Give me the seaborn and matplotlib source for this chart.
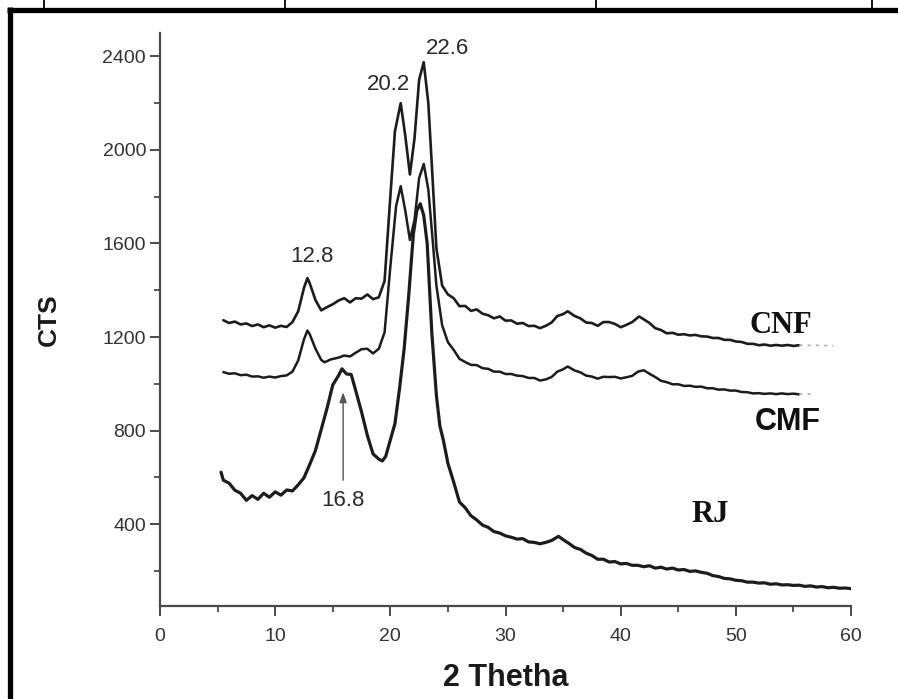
import numpy as np
import pandas as pd
import matplotlib
matplotlib.use("Agg")
import matplotlib.pyplot as plt
from matplotlib.lines import Line2D
import seaborn as sns

# ---- XRD patterns (2-theta in degrees, intensity in counts) ----
cnf_theta = [5.5, 6.0, 6.5, 7.0, 7.5, 8.0, 8.5, 9.0, 9.5, 10.0, 10.5, 11.0, 11.5, 12.0, 12.5, 12.8,
             13.0, 13.5, 14.0, 14.5, 15.0, 15.5, 16.0, 16.5, 17.0, 17.5, 18.0, 18.5, 19.0, 19.5,
             20.0, 20.4, 20.9, 21.3, 21.7, 22.1, 22.5, 22.9, 23.3, 23.7, 24.0, 24.5, 25.0, 25.5,
             26.0, 26.5, 27.0, 27.5, 28.0, 28.5, 29.0, 29.5, 30.0, 30.5, 31.0, 31.5, 32.0, 32.5,
             33.0, 33.5, 34.0, 34.5, 35.0, 35.4, 36.0, 36.5, 37.0, 37.5, 38.0, 38.5, 39.0, 39.5,
             40.0, 40.5, 41.0, 41.6, 42.0, 42.5, 43.0, 43.5, 44.0, 44.5, 45.0, 45.5, 46.0, 46.5,
             47.0, 47.5, 48.0, 48.5, 49.0, 49.5, 50.0, 50.5, 51.0, 51.5, 52.0, 52.5, 53.0, 53.5,
             54.0, 54.5, 55.0, 55.5]
cnf_cts = [1272, 1260, 1266, 1254, 1258, 1247, 1254, 1242, 1250, 1240, 1248, 1243, 1264, 1310, 1410, 1452,
           1430, 1358, 1314, 1328, 1340, 1356, 1366, 1348, 1366, 1364, 1382, 1362, 1370, 1440,
           1800, 2080, 2200, 2060, 1895, 2050, 2300, 2375, 2200, 1850, 1580, 1420, 1382, 1366,
           1332, 1333, 1312, 1318, 1300, 1293, 1280, 1288, 1270, 1271, 1257, 1260, 1247, 1248,
           1238, 1248, 1262, 1290, 1298, 1310, 1290, 1280, 1262, 1260, 1248, 1264, 1264, 1256,
           1242, 1252, 1264, 1288, 1276, 1260, 1238, 1230, 1216, 1218, 1210, 1212, 1207, 1209,
           1203, 1202, 1196, 1196, 1188, 1188, 1181, 1179, 1171, 1171, 1165, 1168, 1163, 1166,
           1163, 1166, 1162, 1165]
cnf_tail_theta = [55.5, 56.0, 56.5, 57.0, 57.5, 58.0, 58.5]
cnf_tail_cts = [1165, 1165, 1164, 1165, 1163, 1164, 1163]

cmf_theta = [5.5, 6.0, 6.5, 7.0, 7.5, 8.0, 8.5, 9.0, 9.5, 10.0, 10.5, 11.0, 11.5, 12.0, 12.5, 12.8,
             13.0, 13.5, 14.0, 14.3, 14.8, 15.5, 16.0, 16.5, 17.0, 17.5, 18.0, 18.5, 19.0, 19.5,
             20.0, 20.5, 20.9, 21.3, 21.7, 22.1, 22.5, 22.9, 23.3, 23.7, 24.0, 24.5, 25.0, 25.5,
             26.0, 26.5, 27.0, 27.5, 28.0, 28.5, 29.0, 29.5, 30.0, 30.5, 31.0, 31.5, 32.0, 32.5,
             33.0, 33.5, 34.0, 34.5, 35.0, 35.4, 36.0, 36.5, 37.0, 37.5, 38.0, 38.5, 39.0, 39.5,
             40.0, 40.5, 41.0, 41.5, 42.0, 42.5, 43.0, 43.5, 44.0, 44.5, 45.0, 45.5, 46.0, 46.5,
             47.0, 47.5, 48.0, 48.5, 49.0, 49.5, 50.0, 50.5, 51.0, 51.5, 52.0, 52.5, 53.0, 53.5,
             54.0, 54.5, 55.0, 55.5]
cmf_cts = [1050, 1043, 1045, 1037, 1039, 1031, 1032, 1026, 1031, 1027, 1033, 1036, 1052, 1100, 1190, 1228,
           1212, 1150, 1102, 1092, 1104, 1112, 1121, 1117, 1133, 1148, 1150, 1130, 1150, 1220,
           1500, 1760, 1845, 1740, 1615, 1700, 1880, 1940, 1830, 1600, 1420, 1250, 1178, 1145,
           1107, 1093, 1081, 1080, 1067, 1064, 1052, 1052, 1042, 1042, 1035, 1033, 1025, 1025,
           1014, 1019, 1029, 1052, 1062, 1074, 1057, 1049, 1035, 1031, 1022, 1030, 1029, 1030,
           1023, 1028, 1034, 1052, 1058, 1043, 1029, 1013, 1007, 998, 998, 991, 992, 987,
           988, 981, 981, 975, 976, 971, 971, 965, 964, 959, 960, 957, 959, 956,
           959, 956, 958, 955]
cmf_tail_theta = [55.5, 56.0, 56.5]
cmf_tail_cts = [955, 957, 956]

rj_theta = [5.3, 5.5, 6.0, 6.5, 7.0, 7.5, 8.0, 8.5, 9.0, 9.5, 10.0, 10.5, 11.0, 11.5, 12.0, 12.5,
            13.0, 13.5, 14.0, 14.5, 15.0, 15.5, 15.8, 16.2, 16.6, 17.0, 17.5, 18.0, 18.5, 19.0,
            19.3, 19.6, 20.0, 20.4, 20.8, 21.2, 21.6, 22.0, 22.3, 22.6, 22.9, 23.2, 23.6, 24.0,
            24.3, 24.6, 25.0, 25.5, 26.0, 26.5, 27.0, 27.5, 28.0, 28.5, 29.0, 29.5, 30.0, 30.5,
            31.0, 31.5, 32.0, 32.5, 33.0, 33.5, 34.0, 34.6, 35.0, 35.5, 36.0, 36.5, 37.0, 37.5,
            38.0, 38.5, 39.0, 39.5, 40.0, 40.5, 41.0, 41.5, 42.0, 42.5, 43.0, 43.5, 44.0, 44.5,
            45.0, 45.5, 46.0, 46.5, 47.0, 47.5, 48.0, 48.5, 49.0, 49.5, 50.0, 50.5, 51.0, 51.5,
            52.0, 52.5, 53.0, 53.5, 54.0, 54.5, 55.0, 55.5, 56.0, 56.5, 57.0, 57.5, 58.0, 58.5,
            59.0, 59.5, 60.0]
rj_cts = [622, 588, 575, 545, 532, 502, 522, 506, 532, 515, 538, 524, 546, 542, 568, 598,
          655, 715, 805, 895, 995, 1035, 1064, 1042, 1040, 970, 880, 780, 700, 678,
          670, 690, 760, 830, 980, 1150, 1380, 1640, 1740, 1770, 1720, 1600, 1220, 950,
          820, 760, 660, 580, 495, 470, 436, 418, 396, 386, 368, 362, 350, 344,
          336, 338, 324, 322, 316, 322, 330, 348, 334, 318, 300, 292, 276, 266,
          250, 250, 238, 240, 230, 232, 224, 224, 218, 222, 212, 216, 208, 212,
          204, 206, 198, 200, 194, 190, 180, 176, 168, 166, 160, 158, 152, 152,
          148, 149, 143, 145, 140, 141, 138, 139, 134, 136, 131, 133, 128, 130,
          126, 127, 124]

# ---- peak labels ----
peak_labels = ["12.8", "20.2", "22.6"]
peak_label_theta = [13.2, 19.8, 25.0]
peak_label_cts = [1545, 2280, 2434]

rj_peak_label = "16.8"
rj_peak_theta = 15.9
rj_peak_text_cts = 503
rj_arrow_from = 588
rj_arrow_to = 964

series_names = ["CNF", "CMF", "RJ"]
series_label_theta = [53.9, 54.5, 47.8]
series_label_cts = [1250, 836, 440]

x_ticks = [0, 10, 20, 30, 40, 50, 60]
y_ticks = [400, 800, 1200, 1600, 2000, 2400]

sns.set_theme(style="white")
plt.rcParams["font.family"] = ["Liberation Sans", "DejaVu Sans"]

fig = plt.figure(figsize=(8.98, 6.99), dpi=100)
ax = fig.add_axes([160 / 898, 1 - 606 / 699, (851 - 160) / 898, (606 - 33) / 699])

line_color = "#1c1c1c"
frames = {
    "CNF": pd.DataFrame({"theta": cnf_theta, "cts": cnf_cts}),
    "CMF": pd.DataFrame({"theta": cmf_theta, "cts": cmf_cts}),
    "RJ": pd.DataFrame({"theta": rj_theta, "cts": rj_cts}),
}
widths = {"CNF": 1.9, "CMF": 1.8, "RJ": 2.3}
for name, df in frames.items():
    sns.lineplot(data=df, x="theta", y="cts", ax=ax, color=line_color,
                 linewidth=widths[name], sort=False, estimator=None)

# faded ends of the two upper traces
sns.lineplot(x=cnf_tail_theta, y=cnf_tail_cts, ax=ax, color="#b0b0b0",
             linewidth=1.2, linestyle=(0, (2, 3)), sort=False, estimator=None)
sns.lineplot(x=cmf_tail_theta, y=cmf_tail_cts, ax=ax, color="#b0b0b0",
             linewidth=1.2, linestyle=(0, (2, 3)), sort=False, estimator=None)

ax.set_xlim(0, 60)
ax.set_ylim(50, 2500)
ax.set_xticks(x_ticks)
ax.set_yticks(y_ticks)
ax.set_xticks([5, 15, 25, 35, 45, 55], minor=True)
ax.set_yticks([200, 600, 1000, 1400, 1800, 2200], minor=True)

axis_color = "#4a4a4a"
for side in ["top", "right"]:
    ax.spines[side].set_visible(False)
for side in ["left", "bottom"]:
    ax.spines[side].set_color(axis_color)
    ax.spines[side].set_linewidth(1.6)
ax.tick_params(axis="both", which="major", direction="out", length=7, width=1.4,
               color=axis_color, labelsize=14, labelcolor="#333333", pad=3,
               left=True, bottom=True)
ax.tick_params(axis="x", which="major", pad=9)
ax.tick_params(axis="both", which="minor", direction="out", length=4, width=1.3,
               color=axis_color, left=True, bottom=True)

ax.set_xlabel("2 Thetha", fontsize=22, fontweight="bold", color="#1a1a1a", labelpad=13)
ax.set_ylabel("CTS", fontsize=19, fontweight="bold", color="#1a1a1a", labelpad=30)

for lab, tx, ty in zip(peak_labels, peak_label_theta, peak_label_cts):
    ax.text(tx, ty, lab, ha="center", va="center", fontsize=16, color="#2a2a2a")

ax.annotate("", xy=(rj_peak_theta, rj_arrow_to), xytext=(rj_peak_theta, rj_arrow_from),
            arrowprops=dict(arrowstyle="-|>,head_length=0.5,head_width=0.18",
                            color="#555555", lw=1.0, shrinkA=0, shrinkB=0))
ax.text(rj_peak_theta, rj_peak_text_cts, rj_peak_label, ha="center", va="center",
        fontsize=16, color="#2a2a2a")

label_fonts = {"CNF": "Liberation Serif", "CMF": "Liberation Sans", "RJ": "Liberation Serif"}
for name, tx, ty in zip(series_names, series_label_theta, series_label_cts):
    ax.text(tx, ty, name, ha="center", va="center", fontsize=22, fontweight="bold",
            family=[label_fonts[name], "DejaVu Sans"], color="#111111")

# surrounding table frame
W, H = 898, 699
fig.add_artist(Line2D([7 / W, 1.0], [1 - 9.5 / H, 1 - 9.5 / H], color="black",
                      linewidth=3.8, solid_capstyle="butt"))
fig.add_artist(Line2D([9.5 / W, 9.5 / W], [0.0, 1 - 7 / H], color="black",
                      linewidth=3.8, solid_capstyle="butt"))
for xp in [44, 285, 596, 872]:
    fig.add_artist(Line2D([xp / W, xp / W], [1 - 8 / H, 1.0], color="black",
                          linewidth=1.3, solid_capstyle="butt"))

fig.savefig("out.png", dpi=100, facecolor="white")
